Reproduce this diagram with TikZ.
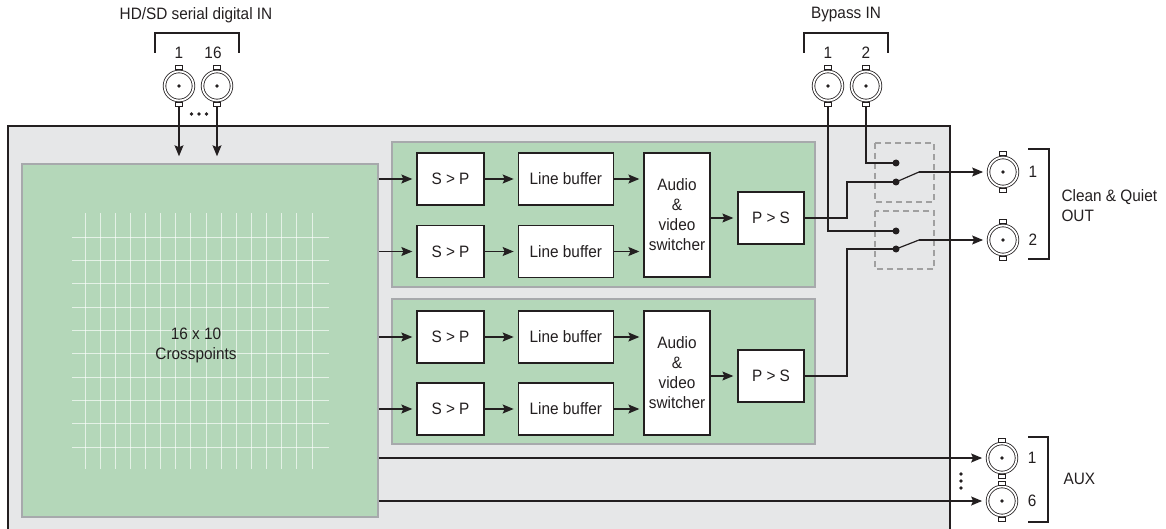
\documentclass[tikz,border=0pt]{standalone}
\usepackage{fontspec}
\setmainfont{Liberation Sans}[FakeStretch=0.93]
\usetikzlibrary{positioning}
\usetikzlibrary{arrows.meta}
\usetikzlibrary{calc}

\definecolor{chassis}{HTML}{E6E7E8}
\definecolor{boardgreen}{HTML}{B4D7B9}
\definecolor{edgegray}{HTML}{A7A9AC}
\definecolor{dashgray}{HTML}{A0A0A0}
\definecolor{ink}{HTML}{231F20}
\newcommand{\diagfont}{\fontsize{16.5pt}{20pt}\selectfont}

\begin{document}
\begin{tikzpicture}[x=1pt,y=-1pt,
		every node/.style={font=\diagfont, text=ink},
		wire/.style={draw=ink, line width=1.2pt},
		sig/.style={wire, -{Stealth[length=11pt,width=9pt,inset=2pt]}, shorten >=4pt},
		blk/.style={draw=ink, fill=white, line width=1.3pt, rectangle, minimum height=52pt, inner sep=0pt, align=center},
		board/.style={draw=edgegray, fill=boardgreen, line width=1.5pt},
		gridline/.style={draw=white, opacity=0.65, line width=0.9pt},
		bnc/.style={circle, draw=ink, fill=white, double, double distance=1.8pt, line width=0.8pt, minimum size=29pt, inner sep=0pt},
		switchbox/.style={draw=dashgray, line width=1.2pt, dash pattern=on 6pt off 4pt}]

		\useasboundingbox (0,0) rectangle (1166,529);

		% chassis and boards
		\draw[draw=ink, fill=chassis, line width=1.2pt] (8,126) rectangle (950,545);
		\node[board, minimum width=356pt, minimum height=353pt, inner sep=0pt] at (200,340.5) (xpt) {};
		\draw[board] (392,142) rectangle (815,287);
		\draw[board] (392,299) rectangle (815,444);

		\foreach \i in {0,...,15}
			\draw[gridline] ({85+\i*15.13},213) -- ({85+\i*15.13},469);
		\foreach \j in {0,...,9}
			\draw[gridline] (72,{237+\j*23.33}) -- (329,{237+\j*23.33});
		\node[align=center] at (196,345) (xptlabel) {16 x 10\\Crosspoints};

		% processing blocks
		\node[blk, minimum width=67pt] at (450.5,179) (sp1) {S > P};
		\node[blk, minimum width=67pt] at (450.5,251.5) (sp2) {S > P};
		\node[blk, minimum width=67pt] at (450.5,337) (sp3) {S > P};
		\node[blk, minimum width=67pt] at (450.5,409) (sp4) {S > P};
		\node[blk, minimum width=95pt, right=33pt of sp1] (lb1) {Line buffer};
		\node[blk, minimum width=95pt, right=33pt of sp2] (lb2) {Line buffer};
		\node[blk, minimum width=95pt, right=33pt of sp3] (lb3) {Line buffer};
		\node[blk, minimum width=95pt, right=33pt of sp4] (lb4) {Line buffer};
		\node[blk, minimum width=66pt, minimum height=124pt] at (677,215) (sw1) {Audio\\\&\\video\\switcher};
		\node[blk, minimum width=66pt, minimum height=124pt] at (677,373) (sw2) {Audio\\\&\\video\\switcher};
		\node[blk, minimum width=66pt] at (771,218) (ps1) {P > S};
		\node[blk, minimum width=66pt] at (771,376) (ps2) {P > S};

		% bypass relays
		\draw[switchbox] (875,143) rectangle (934,202);
		\draw[switchbox] (875,211) rectangle (934,269);
		\coordinate (sw1a) at (896,163);
		\coordinate (sw1b) at (896,182);
		\coordinate (sw1c) at (919,172);
		\coordinate (sw2a) at (896,231);
		\coordinate (sw2b) at (896,249);
		\coordinate (sw2c) at (919,240);
		\coordinate (bend1) at (847,182);
		\coordinate (bend2) at (847,249);

		% connectors
		\node[bnc] at (179,86) (in1) {};
		\node[bnc] at (217,86) (in16) {};
		\node[bnc] at (828,86) (bp1) {};
		\node[bnc] at (866,86) (bp2) {};
		\node[bnc] at (1003,172) (out1) {};
		\node[bnc] at (1003,240) (out2) {};
		\node[bnc] at (1002,458) (aux1) {};
		\node[bnc] at (1002,501) (aux6) {};
		\foreach \c in {in1,in16,bp1,bp2,out1,out2,aux1,aux6} {
			\draw[draw=ink, fill=white, line width=0.8pt] ([xshift=-3.5pt,yshift=1.2pt]\c.north) rectangle ++(7pt,4pt);
			\draw[draw=ink, fill=white, line width=0.8pt] ([xshift=-3.5pt,yshift=-1.2pt]\c.south) rectangle ++(7pt,-4pt);
			\fill[ink] (\c) circle (1.8pt);
		}

		% signal flow
		\draw[sig, shorten >=7pt] ([yshift=-5.2pt]in1.south) -- (in1 |- xpt.north);
		\draw[sig, shorten >=7pt] ([yshift=-5.2pt]in16.south) -- (in16 |- xpt.north);
		\foreach \s in {1,...,4} {
			\draw[sig] (sp\s -| xpt.east) -- (sp\s);
			\draw[sig] (sp\s) -- (lb\s);
		}
		\foreach \l/\w in {1/1,2/1,3/2,4/2}
			\draw[sig] (lb\l) -- (lb\l -| sw\w.west);
		\draw[sig] (ps1 -| sw1.east) -- (ps1);
		\draw[sig] (ps2 -| sw2.east) -- (ps2);

		\draw[wire] (ps1.east) -| (bend1) -- (sw1b);
		\draw[wire] (ps2.east) -| (bend2) -- (sw2b);
		\draw[wire] ([yshift=-5.2pt]bp2.south) |- (sw1a);
		\draw[wire] ([yshift=-5.2pt]bp1.south) |- (sw2a);
		\draw[wire] (sw1b) -- (sw1c);
		\draw[wire] (sw2b) -- (sw2c);
		\draw[sig, shorten >=5pt] (sw1c) -- (out1);
		\draw[sig, shorten >=5pt] (sw2c) -- (out2);
		\foreach \d in {sw1a,sw1b,sw2a,sw2b}
			\fill[ink] (\d) circle (3.5pt);

		\draw[sig, shorten >=5pt] (xpt.east |- aux1) -- (aux1);
		\draw[sig, shorten >=5pt] (xpt.east |- aux6) -- (aux6);

		% ellipsis dots
		\foreach \x in {191.5,199,206.5}
			\fill[ink] (\x,114) circle (1.8pt);
		\foreach \y in {474,481,488}
			\fill[ink] (961,\y) circle (1.8pt);

		% labels and brackets
		\node at (196,15) (intitle) {HD/SD serial digital IN};
		\draw[draw=ink, line width=1.1pt] (155,53) |- (239,33) -- (239,53);
		\node at (179,53) (inlbl1) {1};
		\node at (213,53) (inlbl16) {16};

		\node at (846,15) (bptitle) {Bypass IN};
		\draw[draw=ink, line width=1.1pt] (804,53) |- (888,33) -- (888,53);
		\node at (828,53) (bplbl1) {1};
		\node at (866,53) (bplbl2) {2};

		\node at (1033,172) (outlbl1) {1};
		\node at (1033,240) (outlbl2) {2};
		\draw[draw=ink, line width=1.1pt] (1028,149) -| (1049,259) -- (1028,259);
		\node[anchor=west, align=left] at (1058,206) (outtitle) {Clean \& Quiet\\OUT};

		\node at (1032,458) (auxlbl1) {1};
		\node at (1032,501) (auxlbl6) {6};
		\draw[draw=ink, line width=1.1pt] (1028,437) -| (1048,522) -- (1028,522);
		\node[anchor=west] at (1060,479) (auxtitle) {AUX};
	\end{tikzpicture}
\end{document}
